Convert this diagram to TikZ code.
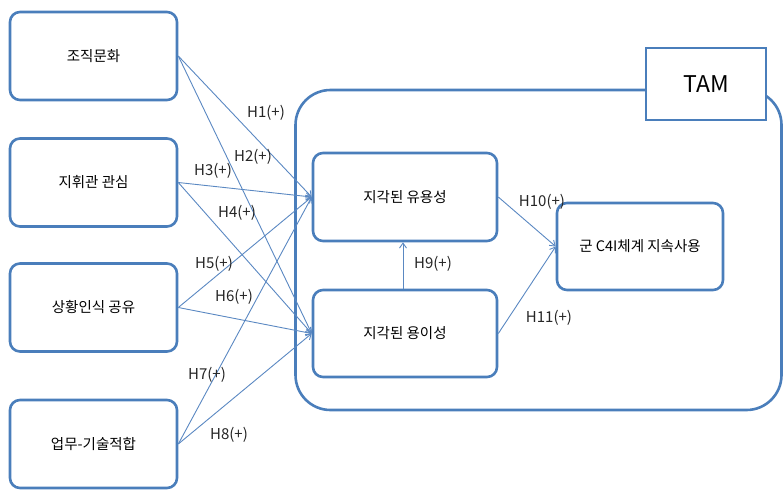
\documentclass[tikz,border=0pt]{standalone}
\usepackage{fontspec}
\setmainfont{Noto Sans CJK KR}
\usetikzlibrary{arrows.meta}
\definecolor{bd}{HTML}{4A7EBB}
\definecolor{ln}{HTML}{5A88C2}
\begin{document}
\begin{tikzpicture}[x=1pt,y=-1pt,
 box/.style={draw=bd, line width=2.6pt, rounded corners=10pt, fill=white, font=\fontsize{14.5}{16}\selectfont, inner sep=0pt},
 arr/.style={draw=ln, line width=0.9pt, -{Straight Barb[length=5pt,width=7pt]}},
 lab/.style={font=\fontsize{15}{17}\selectfont, inner sep=0pt, text=black!85}]
\useasboundingbox (0,0) rectangle (783,490);
% frame
\node[draw=bd, line width=2.6pt, rounded corners=35pt, minimum width=486pt, minimum height=320pt, inner sep=0pt] (frame) at (538.5,250) {};
\node[box, rounded corners=0pt, minimum width=120pt, minimum height=72pt, font=\fontsize{23}{26}\selectfont] (tam) at (706,84) {TAM};
% left boxes
\node[box, minimum width=167pt, minimum height=88pt] (b1) at (93.5,56) {조직문화};
\node[box, minimum width=167pt, minimum height=88pt] (b2) at (93.5,182.5) {지휘관 관심};
\node[box, minimum width=167pt, minimum height=88pt] (b3) at (93.5,307.5) {상황인식 공유};
\node[box, minimum width=167pt, minimum height=88pt] (b4) at (93.5,444) {업무-기술적합};
% TAM boxes
\node[box, minimum width=184pt, minimum height=88pt] (pu) at (405,197) {지각된 유용성};
\node[box, minimum width=184pt, minimum height=87pt] (peou) at (405,333.5) {지각된 용이성};
\node[box, minimum width=166pt, minimum height=87pt] (fin) at (640,246.5) {군 C4I체계 지속사용};
% connectors
\draw[arr] (b1.east) -- (pu.west);
\draw[arr] (b1.east) -- (peou.west);
\draw[arr] (b2.east) -- (pu.west);
\draw[arr] (b2.east) -- (peou.west);
\draw[arr] (b3.east) -- (pu.west);
\draw[arr] (b3.east) -- (peou.west);
\draw[arr] (b4.east) -- (pu.west);
\draw[arr] (b4.east) -- (peou.west);
\draw[arr] ([xshift=-2pt]peou.north) -- ([xshift=-2pt]pu.south);
\draw[arr] (pu.east) -- (fin.west);
\draw[arr] (peou.east) -- (fin.west);
% labels
\node[lab] (h1) at (266,113) {H1(+)};
\node[lab] (h2) at (253,157) {H2(+)};
\node[lab] (h3) at (213,171) {H3(+)};
\node[lab] (h4) at (237,213) {H4(+)};
\node[lab] (h5) at (214,264) {H5(+)};
\node[lab] (h6) at (234,297) {H6(+)};
\node[lab] (h7) at (207,375) {H7(+)};
\node[lab] (h8) at (229,435) {H8(+)};
\node[lab] (h9) at (433,264) {H9(+)};
\node[lab] (h10) at (542,202) {H10(+)};
\node[lab] (h11) at (549,318) {H11(+)};
\end{tikzpicture}
\end{document}
